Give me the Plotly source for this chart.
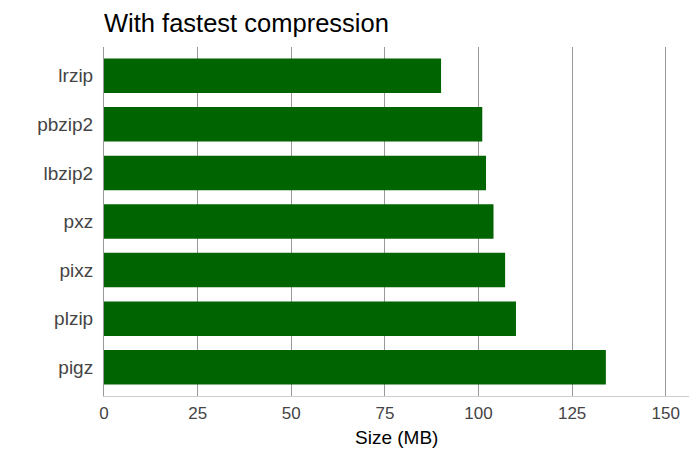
import plotly.graph_objects as go

# compressed size per tool, fastest setting
tools = ["lrzip", "pbzip2", "lbzip2", "pxz", "pixz", "plzip", "pigz"]
size_mb = [90, 101, 102, 104, 107.1, 110, 134]
x_ticks = [0, 25, 50, 75, 100, 125, 150]

bars = go.Bar(
    x=size_mb,
    y=tools,
    orientation="h",
    marker_color="#006400",
    marker_line_width=0,
    width=0.71,
    showlegend=False,
)

# page body keeps its default 8px margin, so the figure is 8px smaller
layout = go.Layout(
    width=692,
    height=454,
    paper_bgcolor="white",
    plot_bgcolor="white",
    font=dict(family="Liberation Sans, Arial, sans-serif", size=17, color="#444444"),
    title=dict(
        text="With fastest compression",
        font=dict(size=25.5, color="black"),
        x=96 / 692,
        xanchor="left",
        y=1 - 6 / 454,
        yanchor="top",
    ),
    margin=dict(l=96, r=11, t=39, b=66, autoexpand=False),
    xaxis=dict(
        range=[0, 156.2],
        tickvals=x_ticks,
        tickfont=dict(size=17),
        showgrid=True,
        gridcolor="#999999",
        gridwidth=1,
        zeroline=False,
        showline=True,
        linecolor="#cccccc",
        linewidth=1,
        ticks="outside",
        ticklen=2,
        tickcolor="rgba(0,0,0,0)",
        automargin=False,
    ),
    yaxis=dict(
        categoryorder="array",
        categoryarray=tools[::-1],
        tickfont=dict(size=19),
        showgrid=False,
        showline=True,
        linecolor="#999999",
        linewidth=1,
        ticks="outside",
        ticklen=6,
        tickcolor="rgba(0,0,0,0)",
        automargin=False,
        range=[-0.59, 6.59],
    ),
    annotations=[
        dict(
            text="Size (MB)",
            font=dict(size=19, color="black"),
            xref="paper",
            yref="paper",
            x=0.5,
            y=-41 / 349,
            xanchor="center",
            yanchor="middle",
            showarrow=False,
        )
    ],
)

fig = go.Figure(data=[bars], layout=layout)
fig.write_html("out.html")
